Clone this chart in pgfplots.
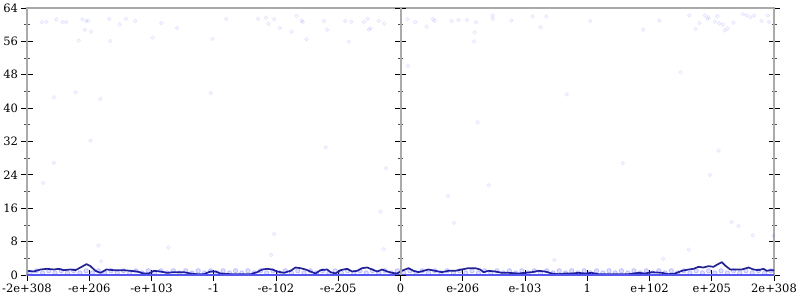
\documentclass[border=0pt]{standalone}
\usepackage{pgfplots}
\pgfplotsset{compat=1.18}
\usepackage{fontspec}
\setmainfont{DejaVu Serif}
\definecolor{avgline}{RGB}{35,35,145}
\definecolor{pts}{RGB}{0,0,255}
\definecolor{zeroline}{RGB}{85,85,240}
\definecolor{axgray}{RGB}{170,170,170}
\begin{document}
\begin{tikzpicture}
\path[use as bounding box] (-27pt,-25pt) rectangle (773pt,275pt);
\begin{axis}[
  at={(0,0)}, anchor=south west, scale only axis,
  width=747pt, height=267pt,
  xmin=-6, xmax=6, ymin=0, ymax=64,
  axis line style={draw=axgray, line width=2pt},
  xtick={-6,-5,-4,-3,-2,-1,0,1,2,3,4,5,6},
  xticklabels={-2e+308,-e+206,-e+103,-1,-e-102,-e-205,0,e-206,e-103,1,e+102,e+205,2e+308},
  ytick={0,8,16,24,32,40,48,56,64},
  minor y tick num=1,
  tick align=center,
  major tick length=11pt, minor tick length=5pt,
  xtick pos=lower, ytick pos=both, yticklabel pos=lower,
  major tick style={black, line width=0.8pt},
  minor tick style={black!70, line width=0.7pt},
  tick label style={font=\fontsize{11.5}{13}\selectfont},
  /pgf/number format/assume math mode=true,
  clip=false,
]
% scattered sample points
\addplot[only marks, mark=o, mark size=1.7pt, color=pts, mark options={draw=pts, draw opacity=0.1, line width=0.8pt}] coordinates {
(-5.76,60.6)(-5.69,60.7)(-5.53,61.3)(-5.43,60.6)(-5.37,60.6)(-5.11,61.3)(-5.05,60.9)(-5.02,60.9)
(-5.07,58.8)(-4.97,58.3)(-5.17,56.2)(-4.68,61.4)(-4.51,60.1)(-4.66,56.1)(-4.41,61.4)(-4.26,60.9)
(-3.98,56.9)(-3.84,60.4)(-3.59,59.2)(-3.02,56.6)(-2.80,61.4)(-2.29,61.4)(-2.16,61.7)(-2.12,60.2)
(-2.03,61.3)(-1.94,59.2)(-1.75,58.3)(-1.67,62.1)(-1.59,61.0)(-1.57,60.6)(-1.51,56.5)(-1.23,60.9)
(-1.18,58.8)(-0.89,60.9)(-0.83,55.9)(-0.79,60.7)(-0.59,60.7)(-0.53,61.4)(-0.51,58.8)(-0.48,59.1)
(-0.35,60.9)(-0.26,60.3)
(-5.22,43.8)(-5.57,42.6)(-4.82,42.2)(-3.05,43.6)(-4.98,32.2)(-5.57,26.9)(-5.74,22.1)(-1.20,30.6)
(-0.23,25.6)(-0.32,15.2)(-2.03,9.8)(-4.85,7.1)(-3.73,6.6)(-2.08,4.8)(-0.27,6.2)(-4.81,3.3)
(0.11,61.3)(0.24,60.6)(0.42,59.5)(0.52,61.3)(0.55,61.0)(0.82,60.9)(0.93,61.1)(1.07,61.1)
(1.21,60.6)(1.19,58.2)(1.18,56.0)(1.48,62.2)(1.48,61.4)(1.78,61.0)(2.12,62.0)(2.25,59.4)
(2.34,62.0)(3.05,60.9)(3.90,58.8)(4.16,61.0)(4.64,62.2)(4.74,59.0)(4.80,60.4)(4.89,62.2)
(4.93,61.4)(4.95,61.8)(5.09,62.0)(5.05,60.7)(5.12,60.3)(5.18,60.0)(5.21,58.6)(5.25,59.1)
(5.35,60.5)(5.50,62.5)(5.56,62.2)(5.62,61.8)(5.68,62.2)(5.80,60.9)(5.90,62.2)(5.92,60.6)
(0.12,50.2)(4.50,48.6)
(2.67,43.3)(1.24,36.6)(3.57,26.8)(5.11,29.8)(4.97,24.0)(1.42,21.5)(0.76,19.0)(0.86,12.5)
(5.32,12.7)(5.43,11.7)(5.66,9.5)(4.63,6.1)(4.22,3.9)(2.47,3.6)(5.99,9.4)
};
% dense cloud of small errors
\addplot[only marks, mark=*, mark size=2.2pt, color=pts, mark options={draw=pts, fill=pts, draw opacity=0.2, fill opacity=0.12, line width=0.8pt}] coordinates {
(-5.95,0.5)(-5.75,0.5)(-5.55,0.5)(-5.35,0.5)(-5.15,0.5)(-4.95,0.5)(-4.75,0.5)(-4.55,0.5)(-4.35,0.5)(-4.15,0.5)
(-3.95,0.5)(-3.75,0.5)(-3.55,0.5)(-3.35,0.5)(-3.15,0.5)(-2.95,0.5)(-2.75,0.5)(-2.55,0.5)(-2.35,0.5)(-2.15,0.5)
(-1.95,0.5)(-1.75,0.5)(-1.55,0.5)(-1.35,0.5)(-1.15,0.5)(-0.95,0.5)(-0.75,0.5)(-0.55,0.5)(-0.35,0.5)(-0.15,0.5)
(0.05,0.5)(0.25,0.5)(0.45,0.5)(0.65,0.5)(0.85,0.5)(1.05,0.5)(1.25,0.5)(1.45,0.5)(1.65,0.5)(1.85,0.5)
(2.05,0.5)(2.25,0.5)(2.45,0.5)(2.65,0.5)(2.85,0.5)(3.05,0.5)(3.25,0.5)(3.45,0.5)(3.65,0.5)(3.85,0.5)
(4.05,0.5)(4.25,0.5)(4.45,0.5)(4.65,0.5)(4.85,0.5)(5.05,0.5)(5.25,0.5)(5.45,0.5)(5.65,0.5)(5.85,0.5)
(-5.85,1.0)(-5.65,1.0)(-5.45,1.0)(-5.25,1.0)(-5.05,1.0)(-4.85,1.0)(-4.65,1.0)(-4.45,1.0)(-4.25,1.0)(-4.05,1.0)
(-3.85,1.0)(-3.65,1.0)(-3.45,1.0)(-3.25,1.0)(-3.05,1.0)(-2.85,1.0)(-2.65,1.0)(-2.45,1.0)(-2.25,1.0)(-2.05,1.0)
(-1.85,1.0)(-1.65,1.0)(-1.45,1.0)(-1.25,1.0)(-1.05,1.0)(-0.85,1.0)(-0.65,1.0)(-0.45,1.0)(-0.25,1.0)(-0.05,1.0)
(0.15,1.0)(0.35,1.0)(0.55,1.0)(0.75,1.0)(0.95,1.0)(1.15,1.0)(1.35,1.0)(1.55,1.0)(1.75,1.0)(1.95,1.0)
(2.15,1.0)(2.35,1.0)(2.55,1.0)(2.75,1.0)(2.95,1.0)(3.15,1.0)(3.35,1.0)(3.55,1.0)(3.75,1.0)(3.95,1.0)
(4.15,1.0)(4.35,1.0)(4.55,1.0)(4.75,1.0)(4.95,1.0)(5.15,1.0)(5.35,1.0)(5.55,1.0)(5.75,1.0)(5.95,1.0)
};
% exact results (zero error), overlapping into a solid band
\addplot[only marks, mark=-, mark size=3.3pt, color=zeroline, mark options={draw=zeroline, line width=2.6pt}] coordinates {
(-5.95,0)(-5.9,0)(-5.8,0)(-5.7,0)(-5.6,0)(-5.5,0)(-5.4,0)(-5.3,0)(-5.2,0)(-5.1,0)
(-5,0)(-4.9,0)(-4.8,0)(-4.7,0)(-4.6,0)(-4.5,0)(-4.4,0)(-4.3,0)(-4.2,0)(-4.1,0)
(-4,0)(-3.9,0)(-3.8,0)(-3.7,0)(-3.6,0)(-3.5,0)(-3.4,0)(-3.3,0)(-3.2,0)(-3.1,0)
(-3,0)(-2.9,0)(-2.8,0)(-2.7,0)(-2.6,0)(-2.5,0)(-2.4,0)(-2.3,0)(-2.2,0)(-2.1,0)
(-2,0)(-1.9,0)(-1.8,0)(-1.7,0)(-1.6,0)(-1.5,0)(-1.4,0)(-1.3,0)(-1.2,0)(-1.1,0)
(-1,0)(-0.9,0)(-0.8,0)(-0.7,0)(-0.6,0)(-0.5,0)(-0.4,0)(-0.3,0)(-0.2,0)(-0.1,0)
(0,0)(0.1,0)(0.2,0)(0.3,0)(0.4,0)(0.5,0)(0.6,0)(0.7,0)(0.8,0)(0.9,0)
(1,0)(1.1,0)(1.2,0)(1.3,0)(1.4,0)(1.5,0)(1.6,0)(1.7,0)(1.8,0)(1.9,0)
(2,0)(2.1,0)(2.2,0)(2.3,0)(2.4,0)(2.5,0)(2.6,0)(2.7,0)(2.8,0)(2.9,0)
(3,0)(3.1,0)(3.2,0)(3.3,0)(3.4,0)(3.5,0)(3.6,0)(3.7,0)(3.8,0)(3.9,0)
(4,0)(4.1,0)(4.2,0)(4.3,0)(4.4,0)(4.5,0)(4.6,0)(4.7,0)(4.8,0)(4.9,0)
(5,0)(5.1,0)(5.2,0)(5.3,0)(5.4,0)(5.5,0)(5.6,0)(5.7,0)(5.8,0)(5.9,0)(5.95,0)
};
% average error line
\addplot[avgline, line width=1.7pt, line join=round] coordinates {
(-5.987,1.0)(-5.89,0.84)(-5.783,1.32)(-5.676,1.48)(-5.569,1.32)(-5.489,1.48)(-5.409,1.16)(-5.301,1.32)
(-5.221,1.16)(-5.141,1.8)(-5.044,2.6)(-4.98,2.12)(-4.9,1.0)(-4.819,0.52)(-4.723,1.32)(-4.605,1.16)
(-4.445,1.16)(-4.337,1.0)(-4.23,0.84)(-4.123,0.36)(-4.043,0.36)(-3.963,1.0)(-3.855,0.84)(-3.748,0.52)
(-3.641,0.68)(-3.48,0.68)(-3.373,0.36)(-3.266,0.2)(-3.159,0.2)(-3.052,0.84)(-2.972,0.84)
(-2.892,0.36)(-2.731,0.2)(-2.57,0.2)(-2.41,0.2)(-2.303,0.68)(-2.222,1.32)(-2.142,1.48)(-2.062,1.32)
(-1.981,0.84)(-1.874,0.52)(-1.767,1.0)(-1.687,1.8)(-1.606,1.64)(-1.526,1.32)(-1.446,0.84)(-1.365,0.36)
(-1.285,1.16)(-1.178,1.32)(-1.124,0.68)(-1.044,0.36)(-0.964,1.16)(-0.857,1.48)(-0.776,0.84)(-0.696,1.0)
(-0.616,1.64)(-0.535,1.8)(-0.455,1.32)(-0.375,0.84)(-0.294,1.32)(-0.214,0.84)(-0.134,0.52)(-0.054,0.36)
(0.021,1.0)(0.129,1.64)(0.209,1.0)(0.289,0.68)(0.369,1.0)(0.45,1.32)(0.557,1.0)(0.664,0.68)
(0.771,1.0)(0.878,1.0)(0.985,1.32)(1.092,1.64)(1.199,1.64)(1.28,1.32)(1.333,0.68)(1.414,1.0)
(1.521,0.84)(1.628,0.52)(1.735,0.52)(1.896,0.36)(2.003,0.52)(2.11,0.68)(2.217,1.0)(2.324,0.84)
(2.431,0.36)(2.538,0.2)(2.645,0.36)(2.752,0.36)(2.859,0.52)(2.966,0.36)(3.073,0.52)
(3.181,0.2)(3.341,0.2)(3.502,0.2)(3.663,0.2)(3.823,0.52)(3.93,0.36)(4.037,0.68)(4.198,0.52)
(4.305,0.2)(4.412,0.36)(4.519,1.0)(4.627,1.32)(4.707,1.48)(4.787,1.96)(4.867,1.8)(4.948,2.12)
(5.028,1.96)(5.082,2.44)(5.162,3.08)(5.215,2.28)(5.296,1.32)(5.376,1.32)(5.483,1.32)(5.59,1.8)
(5.671,1.32)(5.751,1.16)(5.831,1.48)(5.885,1.0)(5.938,1.16)(6.0,1.16)
};
\end{axis}
% middle axis at x = 0
\begin{axis}[
  at={(0,0)}, anchor=south west, scale only axis,
  width=747pt, height=267pt,
  xmin=-6, xmax=6, ymin=0, ymax=64,
  axis x line=none, axis y line=center,
  axis line style={-, draw=axgray, line width=2pt},
  ytick={0,8,16,24,32,40,48,56,64},
  minor y tick num=1, yticklabels={},
  tick align=center,
  major tick length=11pt, minor tick length=5pt,
  major tick style={black, line width=0.8pt},
  minor tick style={black!70, line width=0.7pt},
]
\addplot[draw=none] coordinates {(0,0)};
\end{axis}
\end{tikzpicture}
\end{document}
